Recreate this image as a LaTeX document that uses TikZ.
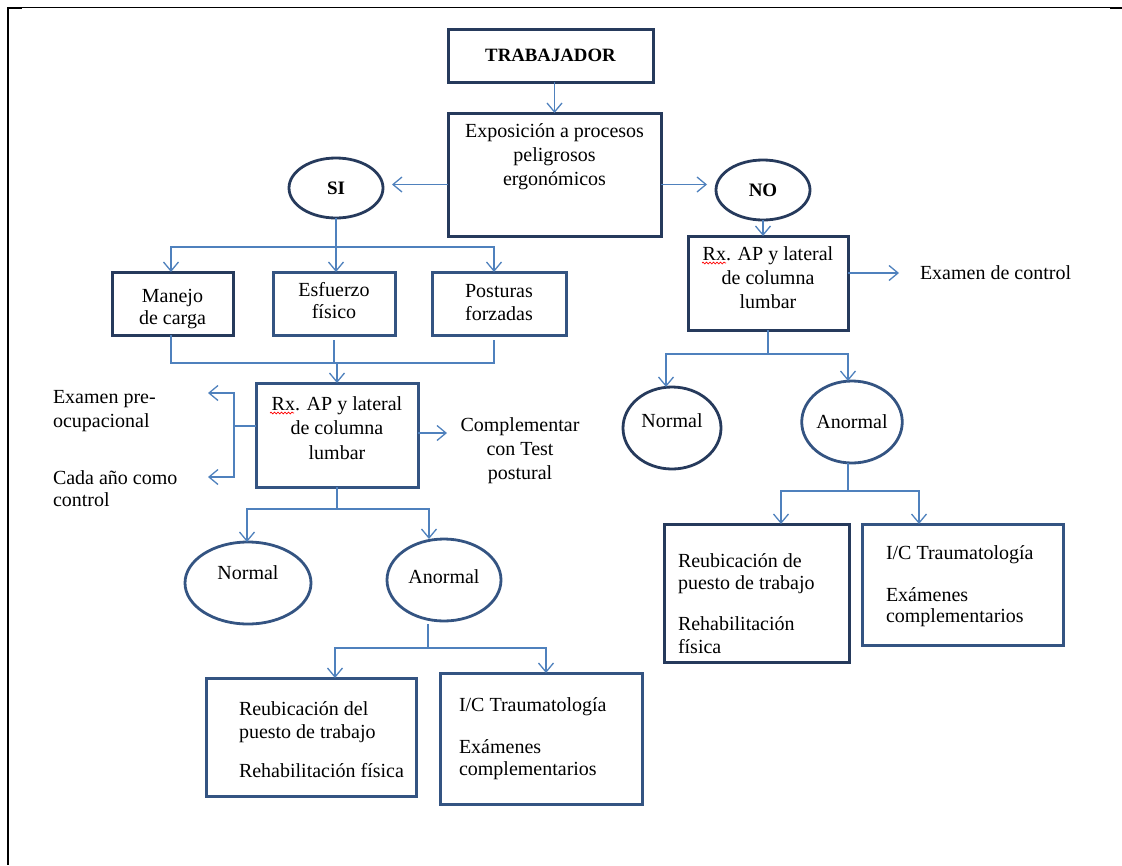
\documentclass[tikz,border=0pt]{standalone}
\usepackage{fontspec}
\setmainfont{Liberation Serif}
\usetikzlibrary{arrows.meta,shapes.geometric,decorations.pathmorphing}

\definecolor{navy}{RGB}{38,58,92}
\definecolor{navymid}{RGB}{52,84,130}
\definecolor{linkblue}{RGB}{79,129,189}

% fixed-size box content: width, height, space above first line, text
\newcommand{\inbox}[4]{\begin{minipage}[c][#2][t]{#1}\vspace*{#3}#4\end{minipage}}

\begin{document}
\begin{tikzpicture}[x=1pt,y=-1pt,
  every node/.style={inner sep=0pt, outer sep=0pt},
  txt/.style={font=\fontsize{20}{24}\selectfont},
  rbox/.style={txt, draw=navy, line width=3pt, fill=white},
  rboxm/.style={rbox, draw=navymid},
  oval/.style={txt, ellipse, draw=navy, line width=2.8pt},
  ovalm/.style={oval, draw=navymid},
  link/.style={draw=linkblue, line width=1.3pt},
  linkarrow/.style={link, -{Straight Barb[length=9pt,width=15pt]}},
  spell/.style={draw=red, line width=0.7pt, decorate,
    decoration={snake, amplitude=0.9pt, segment length=3.5pt}},
]
\useasboundingbox (0,0) rectangle (1122,865);

% page frame
\draw[line width=2.5pt] (8,7) -- (8,865);
\draw[line width=1pt] (7,7.5) -- (1122,7.5);
\draw[line width=2.5pt] (7,8) -- (22,8);
\draw[line width=2.5pt] (1110,8) -- (1122,8);

% top
\node[rbox, minimum width=205pt, minimum height=53pt,
      font=\bfseries\fontsize{18.8}{22}\selectfont] (trab) at (550.5,55.5) {TRABAJADOR};
\node[rbox] (expo) at (554.5,174.5)
  {\inbox{213pt}{123pt}{7.2pt}{\centering\strut Exposición a procesos\\ peligrosos\\ ergonómicos}};
\node[oval, minimum width=94pt, minimum height=60pt,
      font=\bfseries\fontsize{19}{24}\selectfont] (si) at (336,188) {SI};
\node[oval, minimum width=94pt, minimum height=60pt,
      font=\bfseries\fontsize{19}{24}\selectfont] (no) at (763,190) {NO};

% left branch
\node[rbox] (manejo) at (172.5,303.5)
  {\inbox{121pt}{63pt}{13.2pt}{\centering\strut Manejo\\[-2pt] de carga}};
\node[rboxm] (esfuerzo) at (334,303.5)
  {\inbox{122pt}{63pt}{7.2pt}{\centering\strut Esfuerzo\\[-2pt] físico}};
\node[rboxm] (posturas) at (499,303.5)
  {\inbox{134pt}{63pt}{8.2pt}{\centering\strut Posturas\\[-1pt] forzadas}};
\node[rboxm] (rxL) at (337,435)
  {\inbox{162pt}{104pt}{10.2pt}{\centering\strut Rx. AP y lateral\\[0.5pt] de columna\\[0.5pt] lumbar}};

\node[txt, anchor=west, align=left] (pre) at (53,411) {Examen pre-\\ocupacional};
\node[txt, anchor=west, align=left] (cada) at (53,489) {Cada año como\\[-2pt]control};
\node[txt, align=center] (comp) at (520,451) {Complementar\\con Test\\postural};

\node[ovalm, minimum width=126pt, minimum height=82pt] (nL) at (248,583)
  {\raisebox{10pt}[\height][\depth]{Normal}};
\node[ovalm, minimum width=114pt, minimum height=82pt] (aL) at (444,580)
  {\raisebox{3pt}[\height][\depth]{Anormal}};

\node[rboxm] (bL1) at (311,737)
  {\inbox{210pt}{118pt}{20.2pt}{\raggedright\leftskip=33pt\strut Reubicación del\\[-1pt] puesto de trabajo\\[15pt] Rehabilitación física}};
\node[rboxm] (bL2) at (541,738.5)
  {\inbox{202pt}{131pt}{21.2pt}{\raggedright\leftskip=19pt\strut I/C Traumatología\\[18pt] Exámenes\\[-2pt] complementarios}};

% right branch
\node[rbox] (rxR) at (768,283)
  {\inbox{160pt}{94pt}{7.2pt}{\centering\strut Rx. AP y lateral\\ de columna\\ lumbar}};
\node[txt, anchor=west] (exctl) at (920,273) {Examen de control};

\node[oval, minimum width=98pt, minimum height=82pt] (nR) at (672,428)
  {\raisebox{7pt}[\height][\depth]{Normal}};
\node[ovalm, minimum width=94pt, minimum height=82pt] (aR) at (852,422) {Anormal};

\node[rbox] (bR1) at (756.5,593)
  {\inbox{185pt}{138pt}{26.2pt}{\raggedright\leftskip=14pt\strut Reubicación de\\[-2pt] puesto de trabajo\\[17pt] Rehabilitación\\[-1pt] física}};
\node[rboxm] (bR2) at (962.5,584.5)
  {\inbox{201pt}{121pt}{18.2pt}{\raggedright\leftskip=24pt\strut I/C Traumatología\\[18pt] Exámenes\\[-3pt] complementarios}};

% spelling marks under "Rx"
\draw[spell] (270,413) -- (294,413);
\draw[spell] (702,263) -- (726,263);

% connectors: top
\draw[linkarrow] (expo.north |- trab.south) -- (expo.north);
\draw[linkarrow, shorten >=9pt] ([yshift=-10pt]expo.west) -- ([yshift=-10pt]expo.west -| si.east);
\draw[linkarrow, shorten >=9pt] ([yshift=-10pt]expo.east) -- ([yshift=-10pt]expo.east -| no.west);

% connectors: left branch
\draw[link] (si.south) -- ++(0,29) coordinate (j1);
\draw[linkarrow] (j1) -| ([xshift=-1.5pt]manejo.north);
\draw[linkarrow] (j1) -- (j1 |- esfuerzo.north);
\draw[linkarrow] (j1) -| ([xshift=-5pt]posturas.north);

\path (rxL.north) ++(0,-20) coordinate (j2);
\draw[link] ([xshift=-1.5pt]manejo.south) |- (j2);
\draw[link] ([yshift=-5pt]esfuerzo.south) -- (esfuerzo.south |- j2);
\draw[link] ([xshift=-5pt,yshift=-5pt]posturas.south) |- (j2);
\draw[linkarrow] (j2) -- (rxL.north);

\coordinate (tPre) at (208,393);
\coordinate (tCada) at (208,477);
\coordinate (tComp) at (447,433);
\draw[link] ([yshift=9pt]rxL.west) -- ++(-22,0) coordinate (jL);
\draw[linkarrow] (jL) |- (tPre);
\draw[linkarrow] (jL) |- (tCada);
\draw[linkarrow] (rxL.east |- tComp) -- (tComp);

\draw[link] (rxL.south) -- ++(0,22) coordinate (j3);
\draw[linkarrow] (j3) -| ([xshift=-1pt]nL.north);
\draw[linkarrow] (j3) -| ([xshift=-15pt]aL.north);

\draw[link] ([xshift=-16pt,yshift=-3pt]aL.south) -- ++(0,24) coordinate (j4);
\draw[linkarrow] (j4) -| ([xshift=24pt]bL1.north);
\draw[linkarrow] (j4) -| ([xshift=5pt]bL2.north);

% connectors: right branch
\draw[linkarrow] (no.south) -- (no.south |- rxR.north);
\draw[linkarrow, shorten >=21pt] (rxR.east |- exctl.west) -- (exctl.west);

\draw[link] (rxR.south) -- ++(0,24) coordinate (j5);
\draw[linkarrow] (j5) -| ([xshift=-6pt]nR.north);
\draw[linkarrow] (j5) -| ([xshift=-4pt]aR.north);

\draw[link] ([xshift=-4pt]aR.south) -- ++(0,28) coordinate (j6);
\draw[linkarrow] (j6) -| ([xshift=24.5pt]bR1.north);
\draw[linkarrow] (j6) -| ([xshift=-43.5pt]bR2.north);
\end{tikzpicture}
\end{document}
